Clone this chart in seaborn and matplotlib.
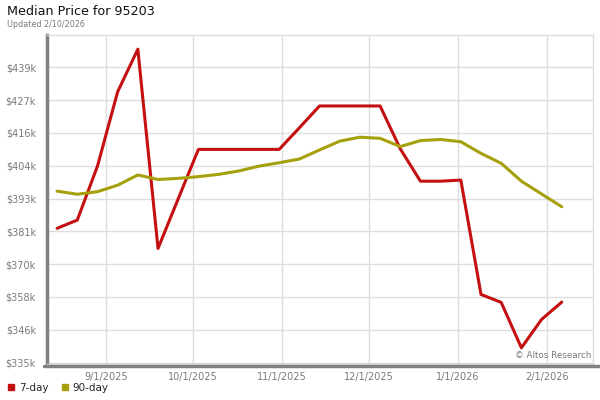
import matplotlib
matplotlib.use('Agg')
import matplotlib.pyplot as plt
import matplotlib.dates as mdates
from matplotlib.lines import Line2D
import numpy as np
import pandas as pd
import seaborn as sns

# Данные: недельные точки, медианная цена (тыс. $)
dates = ['2025-08-15', '2025-08-22', '2025-08-29', '2025-09-05', '2025-09-12',
         '2025-09-19', '2025-09-26', '2025-10-03', '2025-10-10', '2025-10-17',
         '2025-10-24', '2025-10-31', '2025-11-07', '2025-11-14', '2025-11-21',
         '2025-11-28', '2025-12-05', '2025-12-12', '2025-12-19', '2025-12-26',
         '2026-01-02', '2026-01-09', '2026-01-16', '2026-01-23', '2026-01-30',
         '2026-02-06']
day7 = [382.3, 385.2, 404.2, 430.4, 445.4, 375.2, 392.7, 410.1, 410.1, 410.1,
        410.1, 410.1, 417.7, 425.4, 425.4, 425.4, 425.4, 410.3, 398.9, 398.9,
        399.3, 359.0, 356.2, 340.2, 350.2, 356.3]
day90 = [395.4, 394.3, 395.2, 397.5, 401.1, 399.5, 399.9, 400.5, 401.3, 402.5,
         404.2, 405.4, 406.7, 409.9, 413.0, 414.4, 414.0, 411.1, 413.2, 413.6,
         412.8, 408.7, 405.2, 398.9, 394.4, 389.9]
series_names = ['7-day', '90-day']
y_labels = ['$335k', '$346k', '$358k', '$370k', '$381k',
            '$393k', '$404k', '$416k', '$427k', '$439k']
x_ticks = ['2025-09-01', '2025-10-01', '2025-11-01', '2025-12-01',
           '2026-01-01', '2026-02-01']

df = pd.DataFrame({
    'date': pd.to_datetime(dates * 2),
    'price': day7 + day90,
    'series': [series_names[0]] * len(dates) + [series_names[1]] * len(dates),
})

colors = {'7-day': '#c41010', '90-day': '#a5a00c'}
grey = '#7a7a7a'

sns.set_style('white')
plt.rcParams['font.family'] = ['DejaVu Sans']

fig = plt.figure(figsize=(6, 4), dpi=100)
ax = fig.add_axes([47 / 600, 1 - 364 / 400, 546 / 600, 329 / 400])

sns.lineplot(data=df, x='date', y='price', hue='series', palette=colors,
             linewidth=2.2, legend=False, ax=ax)

# Оси и сетка
ax.set_xlim(pd.Timestamp('2025-08-11 12:00'), pd.Timestamp('2026-02-16 20:00'))
ax.set_ylim(334.5, 450.4)
ax.set_yticks(np.linspace(335, 439, 10))
ax.set_yticklabels(y_labels)
ax.set_xticks(pd.to_datetime(x_ticks))
ax.xaxis.set_major_formatter(mdates.DateFormatter('%-m/%-d/%Y'))
ax.tick_params(axis='both', length=0, labelsize=7, labelcolor=grey)
ax.tick_params(axis='y', pad=8)
ax.tick_params(axis='x', pad=6)
ax.grid(True, color='#dddddd', linewidth=1)
ax.set_axisbelow(True)
ax.set_xlabel('')
ax.set_ylabel('')

for side in ['top', 'right']:
    ax.spines[side].set_color('#dddddd')
    ax.spines[side].set_linewidth(1)
ax.spines['left'].set_color('#808080')
ax.spines['left'].set_linewidth(2.5)
ax.spines['bottom'].set_color('#dddddd')
ax.spines['bottom'].set_linewidth(1)

# толстая нижняя полоса до края
fig.add_artist(Line2D([44 / 600, 1.0], [1 - 366 / 400, 1 - 366 / 400],
                      color='#808080', linewidth=2.5,
                      transform=fig.transFigure))

ax.text(0.997, 0.012, '\u00a9 Altos Research', transform=ax.transAxes,
        ha='right', va='bottom', fontsize=6.3, color=grey)

# Заголовки
fig.text(7 / 600, 1 - 5 / 400, 'Median Price for 95203', ha='left', va='top',
         fontsize=9.2, color='#111111')
fig.text(7 / 600, 1 - 20 / 400, 'Updated 2/10/2026', ha='left', va='top',
         fontsize=5.8, color=grey)

# Легенда
handles = [Line2D([], [], marker='s', linestyle='', markersize=4.5,
                  color=colors[s], label=s) for s in series_names]
fig.legend(handles=handles, loc='lower left', bbox_to_anchor=(0.0, 0.0),
           ncol=2, frameon=False, fontsize=7.5, handletextpad=0.3,
           columnspacing=1.2, handlelength=0.8, borderaxespad=0.3)

fig.savefig('out.png', dpi=100)
